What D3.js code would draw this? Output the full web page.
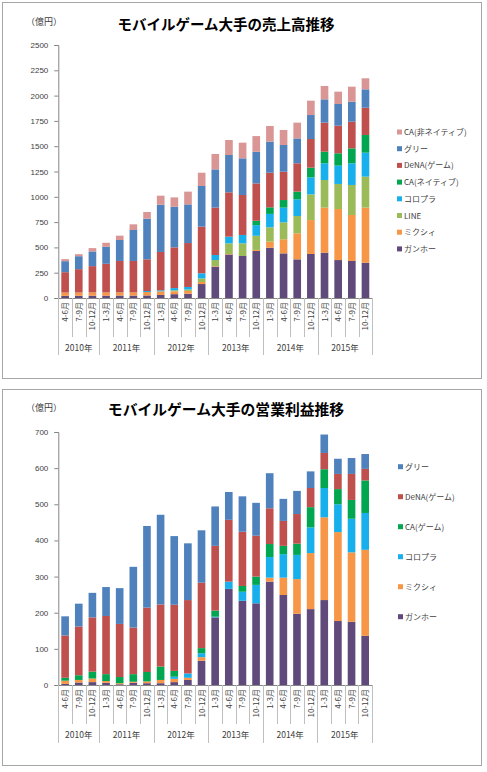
<!DOCTYPE html>
<html><head><meta charset="utf-8">
<script src="https://cdn.jsdelivr.net/npm/d3@7"></script>
<style>
body{margin:0;background:#fff}
svg{display:block}
text{font-family:"Noto Sans CJK JP","Noto Sans",sans-serif}
</style>
</head><body>
<svg id="c" width="487" height="772"></svg>
<script>
// ---- categories ----
const quarterLabels = ["4-6月","7-9月","10-12月",
  "1-3月","4-6月","7-9月","10-12月",
  "1-3月","4-6月","7-9月","10-12月",
  "1-3月","4-6月","7-9月","10-12月",
  "1-3月","4-6月","7-9月","10-12月",
  "1-3月","4-6月","7-9月","10-12月"];
const yearLabels = ["2010年","2011年","2012年","2013年","2014年","2015年"];
const yearQuarterCounts = [3,4,4,4,4,4];

// ---- chart 1: sales (億円) ----
const salesTitle = "モバイルゲーム大手の売上高推移";
const salesNames = ["ガンホー","ミクシィ","LINE","コロプラ","CA(ネイティブ)","DeNA(ゲーム)","グリー","CA(非ネイティブ)"];
const salesGungho  = [22,22,23,23,24,24,25,30,38,42,138,310,430,415,465,497,441,382,435,448,375,366,349];
const salesMixi    = [32,32,32,32,32,32,34,36,28,28,20,5,5,0,10,60,139,257,335,445,504,454,544];
const salesLine    = [0,0,0,0,0,0,0,0,10,14,36,60,105,125,140,142,168,171,254,273,248,297,306];
const salesColopl  = [0,0,0,0,0,0,10,10,22,25,50,50,66,83,105,132,145,165,168,165,181,214,237];
const salesCaNative= [0,0,0,0,0,0,0,0,0,0,0,0,0,0,43,65,75,76,96,115,122,148,175];
const salesDena    = [201,231,260,283,310,310,313,379,402,434,461,468,438,395,369,342,280,280,283,287,273,263,269];
const salesGree    = [109,128,145,168,207,306,402,467,401,382,402,378,369,362,313,307,264,246,237,230,214,198,182];
const salesCaOther = [20,20,33,40,43,56,66,89,93,126,131,152,148,155,155,155,148,156,142,132,122,148,109];
const salesTicks = [0,250,500,750,1000,1250,1500,1750,2000,2250,2500];

// ---- chart 2: operating profit (億円) ----
const profitTitle = "モバイルゲーム大手の営業利益推移";
const profitNames = ["ガンホー","ミクシィ","コロプラ","CA(ゲーム)","DeNA(ゲーム)","グリー"];
const profitGungho = [3,7,8,6,2,6,5,5,8,14,67,187,266,233,226,286,249,197,210,235,177,175,136];
const profitMixi   = [9,7,10,5,3,3,5,9,9,6,10,0,0,0,0,11,48,96,155,229,246,192,238];
const profitColopl = [0,0,0,0,0,0,0,0,6,12,11,2,20,25,51,57,65,67,71,81,77,93,102];
const profitCa     = [8,13,19,19,17,21,26,37,16,0,14,17,0,16,23,36,23,31,56,52,42,52,90];
const profitDena   = [117,135,150,161,147,129,178,172,183,203,181,179,171,150,113,99,69,82,53,45,42,72,32];
const profitGree   = [53,63,68,80,99,168,226,248,190,157,145,109,77,98,91,97,61,64,46,51,42,44,41];
const profitTicks = [0,100,200,300,400,500,600,700];

const colorByName = {
  "ガンホー":"#604A7B","ミクシィ":"#F79646","LINE":"#9BBB59","コロプラ":"#17B0EC",
  "CA(ネイティブ)":"#00A650","CA(ゲーム)":"#00A650","DeNA(ゲーム)":"#C0504D",
  "グリー":"#4F81BD","CA(非ネイティブ)":"#D99694"
};

// category keys (year + quarter) built from the arrays
const catKeys = [];
const catYear = [];
{
  let i = 0;
  yearLabels.forEach((y, yi) => {
    for (let k = 0; k < yearQuarterCounts[yi]; k++) { catKeys.push(y + "|" + i); catYear.push(yi); i++; }
  });
}

const svg = d3.select("#c");

function drawPanel(cfg) {
  const g = svg.append("g");
  // panel border
  g.append("rect").attr("x", 2.5).attr("y", cfg.panelTop + 0.5).attr("width", 479).attr("height", 376)
    .attr("fill", "#fff").attr("stroke", "#A6A6A6").attr("stroke-width", 1);

  const x = d3.scaleBand().domain(catKeys).range([cfg.left, cfg.right]).paddingInner(0.44).paddingOuter(0.22);
  const y = d3.scaleLinear().domain([0, cfg.ticks[cfg.ticks.length - 1]]).range([cfg.zeroY, cfg.topY]);

  // data table from arrays
  const rows = catKeys.map((k, i) => {
    const r = { key: k };
    cfg.names.forEach((n, si) => r[n] = cfg.series[si][i]);
    return r;
  });
  const stacked = d3.stack().keys(cfg.names)(rows);

  g.selectAll("g.s").data(stacked).join("g").attr("fill", d => colorByName[d.key])
    .selectAll("rect").data(d => d).join("rect")
    .attr("x", d => x(d.data.key)).attr("width", x.bandwidth())
    .attr("y", d => y(d[1])).attr("height", d => Math.max(0, y(d[0]) - y(d[1])));

  // y axis
  const ya = g.append("g").attr("transform", `translate(${cfg.left},0)`)
    .call(d3.axisLeft(y).tickValues(cfg.ticks).tickSize(4).tickPadding(6).tickFormat(d3.format("d")));
  ya.select(".domain").attr("stroke", "#868686");
  ya.selectAll(".tick line").attr("stroke", "#868686");
  ya.selectAll(".tick text").attr("fill", "#404040").style("font-size", "8px")
    .style("font-family", "'Liberation Sans','Noto Sans',sans-serif");

  // x axis line
  g.append("line").attr("x1", cfg.left).attr("x2", cfg.right).attr("y1", cfg.zeroY + 0.5).attr("y2", cfg.zeroY + 0.5)
    .attr("stroke", "#868686");

  // category dividers
  const step = x.step();
  const bounds = d3.range(catKeys.length + 1).map(i => cfg.left + x.paddingOuter() * step - (x.paddingInner() * step) / 2 + i * step);
  const boundaryX = i => (i === 0 ? cfg.left : (i === catKeys.length ? cfg.right : x(catKeys[i]) - (step - x.bandwidth()) / 2));
  const yearStarts = [0];
  yearQuarterCounts.forEach((c, i) => yearStarts.push(yearStarts[i] + c));
  d3.range(catKeys.length + 1).forEach(i => {
    const isYear = yearStarts.includes(i);
    g.append("line").attr("x1", Math.round(boundaryX(i)) + 0.5).attr("x2", Math.round(boundaryX(i)) + 0.5)
      .attr("y1", cfg.zeroY).attr("y2", cfg.zeroY + (isYear ? cfg.yearLineLen : cfg.monthLineLen))
      .attr("stroke", "#BFBFBF");
  });

  // month labels
  g.selectAll("text.m").data(catKeys).join("text").attr("class", "m")
    .attr("transform", (d) => `translate(${x(d) + x.bandwidth() / 2 + 3},${cfg.zeroY + 4}) rotate(-90)`)
    .attr("text-anchor", "end").attr("fill", "#404040").style("font-size", "8px")
    .text((d, i) => quarterLabels[i]);

  // year labels
  yearLabels.forEach((yl, yi) => {
    const a = boundaryX(yearStarts[yi]), b = boundaryX(yearStarts[yi + 1]);
    g.append("text").attr("x", (a + b) / 2).attr("y", cfg.zeroY + cfg.yearLabelDy)
      .attr("text-anchor", "middle").attr("fill", "#404040").style("font-size", "8.5px").text(yl);
  });

  // title and unit
  g.append("text").attr("x", cfg.titleX).attr("y", cfg.titleY).attr("text-anchor", "middle")
    .attr("fill", "#000").style("font-size", cfg.titleSize).style("font-weight", "bold").text(cfg.title);
  g.append("text").attr("x", 26).attr("y", cfg.unitY).attr("fill", "#404040").style("font-size", "9px").text("（億円）");

  // legend (reverse order)
  const legendNames = cfg.names.slice().reverse();
  const lg = g.selectAll("g.lg").data(legendNames).join("g")
    .attr("transform", (d, i) => `translate(${cfg.legendX},${cfg.legendY + i * cfg.legendStep})`);
  lg.append("rect").attr("x", 0).attr("y", -2.5).attr("width", 5).attr("height", 5).attr("fill", d => colorByName[d]);
  lg.append("text").attr("x", 7).attr("y", 3).attr("fill", "#404040").style("font-size", "8px").text(d => d);
}

drawPanel({
  panelTop: 2, left: 58.3, right: 372.3, zeroY: 298, topY: 45,
  ticks: salesTicks, names: salesNames,
  series: [salesGungho, salesMixi, salesLine, salesColopl, salesCaNative, salesDena, salesGree, salesCaOther],
  monthLineLen: 39, yearLineLen: 57, yearLabelDy: 53,
  title: salesTitle, titleX: 226, titleY: 30, titleSize: "14.5px", unitY: 25,
  legendX: 397, legendY: 132, legendStep: 16.7
});

drawPanel({
  panelTop: 389, left: 58.3, right: 372, zeroY: 685, topY: 432,
  ticks: profitTicks, names: profitNames,
  series: [profitGungho, profitMixi, profitColopl, profitCa, profitDena, profitGree],
  monthLineLen: 39, yearLineLen: 58, yearLabelDy: 53,
  title: profitTitle, titleX: 226, titleY: 415, titleSize: "14.8px", unitY: 411,
  legendX: 398, legendY: 466.7, legendStep: 30
});
</script>
</body></html>
